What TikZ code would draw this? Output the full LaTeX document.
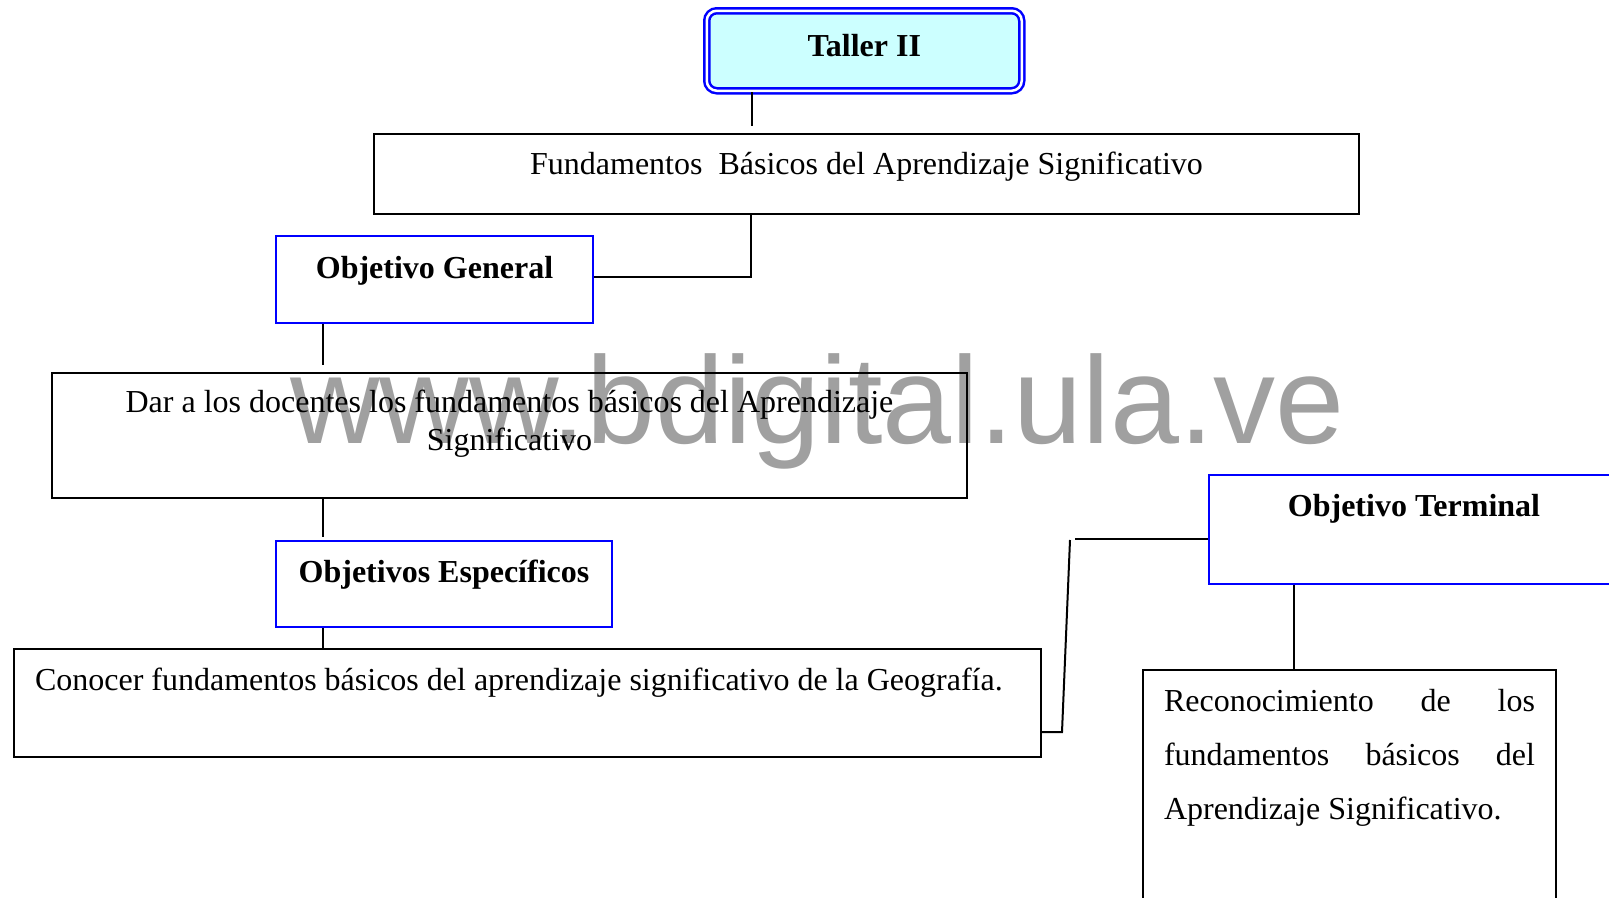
\documentclass[tikz,border=0pt]{standalone}
\usepackage{fontspec}
\setmainfont{Liberation Serif}
\newfontfamily\wmfont{Liberation Sans}
\definecolor{tallerfill}{RGB}{204,255,255}
\definecolor{wmgray}{RGB}{160,160,160}

\begin{document}
\begin{tikzpicture}[x=1pt, y=-1pt,
	every node/.style={font=\fontsize{32}{38}\selectfont},
	kasten/.style={draw=black, line width=2pt, rectangle, inner ysep=0pt,
		anchor=north west},
	blaukasten/.style={kasten, draw=blue,
		font=\fontsize{32}{38}\selectfont\bfseries},
	linie/.style={line width=2pt}]
	\clip (0,0) rectangle (1609,897);

	% Wasserzeichen
	\node[anchor=base west, inner sep=0pt, text=wmgray,
	font=\wmfont\fontsize{124}{124}\selectfont] (wm) at (290,443)
	{www.bdigital.ula.ve};

	% Taller oben
	\node[blaukasten, fill=tallerfill, rounded corners=10pt, line width=2.5pt,
	double=white, double distance=2.5pt, minimum width=315pt,
	text height=45.5pt, text depth=34.5pt] (taller) at (705.5,9.5)
	{Taller II};

	% Kaesten
	\node[kasten, minimum width=985pt, text height=40pt, text depth=40pt]
	(fund) at (373,133) {Fundamentos \ Básicos del Aprendizaje Significativo};
	\node[blaukasten, minimum width=317pt, text height=42pt, text depth=45pt]
	(ogen) at (275,235) {Objetivo General};
	\node[kasten, minimum width=915pt, align=center, text height=77pt,
	text depth=48pt] (dar) at (51,372)
	{Dar a los docentes los fundamentos básicos del Aprendizaje\\Significativo};
	\node[blaukasten, minimum width=336pt, text height=41pt, text depth=45pt]
	(oesp) at (275,540) {Objetivos Específicos};
	\node[kasten, minimum width=1027pt, text height=41pt, text depth=67pt]
	(conoc) at (13,648) {\makebox[985pt][l]{Conocer fundamentos básicos del
	aprendizaje significativo de la Geografía.}};
	\node[blaukasten, minimum width=410pt, text height=41pt, text depth=68pt]
	(oterm) at (1208,474) {Objetivo Terminal};
	\node[kasten, inner xsep=21pt, text width=371pt, align=justify,
	font=\fontsize{32}{54}\selectfont, text height=41pt, text depth=200pt]
	(recon) at (1142,669) {\hyphenpenalty=10000 Reconocimiento de los\linebreak
	fundamentos básicos del\linebreak Aprendizaje Significativo.\par};

	% Verbindungen
	\coordinate (a1) at (752,126);
	\draw[linie] (taller.south -| a1) -- (a1);
	\coordinate (a2) at (751,277);
	\draw[linie] (fund.south -| a2) -- (a2) -- (a2 -| ogen.east);
	\coordinate (a3) at (323,365);
	\draw[linie] (ogen.south -| a3) -- (a3);
	\coordinate (a4) at (323,537);
	\draw[linie] (dar.south -| a4) -- (a4);
	\draw[linie] (oesp.south -| a4) -- (conoc.north -| a4);
	\coordinate (a6) at (1062,732);
	\coordinate (a7) at (1070,540);
	\coordinate (a8) at (1075,539);
	\draw[linie] (conoc.east |- a6) -- (a6) -- (a7);
	\draw[linie] (a8) -- (a8 -| oterm.west);
	\coordinate (a9) at (1294,0);
	\draw[linie] (oterm.south -| a9) -- (recon.north -| a9);
\end{tikzpicture}
\end{document}
